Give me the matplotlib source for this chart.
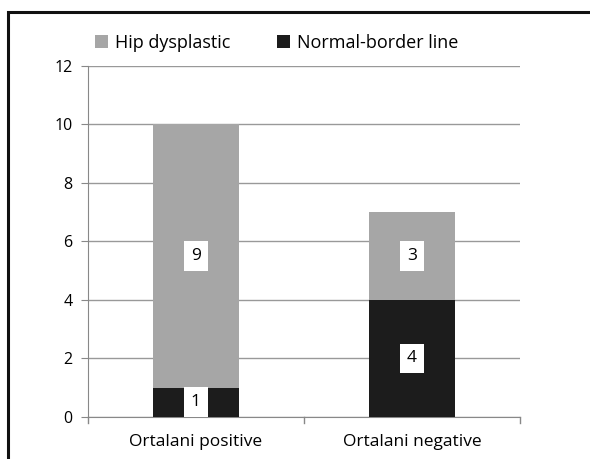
import matplotlib
matplotlib.use("Agg")
import matplotlib.pyplot as plt
from matplotlib.patches import Rectangle

categories = ["Ortalani positive", "Ortalani negative"]
normal_border = [1, 4]
hip_dysplastic = [9, 3]
series_names = ["Hip dysplastic", "Normal-border line"]
yticks = [0, 2, 4, 6, 8, 10, 12]

GRAY = "#a6a6a6"
BLACK = "#1c1c1c"
plt.rcParams["font.family"] = ["Open Sans", "DejaVu Sans"]

fig = plt.figure(figsize=(5.9, 4.59), dpi=100)
ax = fig.add_axes([0.149, 0.0915, 0.732, 0.765])

x = list(range(len(categories)))
ax.bar(x, normal_border, width=0.4, color=BLACK, label=series_names[1], zorder=3)
ax.bar(x, hip_dysplastic, width=0.4, bottom=normal_border, color=GRAY,
       label=series_names[0], zorder=3)

# value labels in white boxes
box = dict(facecolor="white", edgecolor="none", boxstyle="square,pad=0.4")
for i in x:
    ax.text(i, normal_border[i] / 2, str(normal_border[i]), ha="center", va="center",
            fontsize=12.5, zorder=4, bbox=box)
    ax.text(i, normal_border[i] + hip_dysplastic[i] / 2, str(hip_dysplastic[i]),
            ha="center", va="center", fontsize=12.5, zorder=4, bbox=box)

ax.set_xlim(-0.5, 1.5)
ax.set_ylim(0, 12)
ax.set_yticks(yticks)
ax.set_xticks(x)
ax.set_xticklabels(categories, fontsize=12.5)
ax.tick_params(axis="y", labelsize=11.5, length=5, color="#888888", pad=6)
ax.tick_params(axis="x", length=0, pad=12)
for t in [-0.5, 0.5, 1.5]:
    ax.plot([t, t], [0, -0.22], color="#888888", lw=1, clip_on=False, zorder=3)

ax.grid(axis="y", color="#999999", lw=1, zorder=0)
for side in ["top", "right"]:
    ax.spines[side].set_visible(False)
ax.spines["left"].set_color("#888888")
ax.spines["bottom"].set_color("#888888")

handles, labels = ax.get_legend_handles_labels()
ax.legend(handles[::-1], labels[::-1], loc="lower left", bbox_to_anchor=(0.0, 1.02),
          ncol=2, frameon=False, fontsize=13, handlelength=0.7, handleheight=0.7,
          handletextpad=0.4, columnspacing=2.6, borderaxespad=0)

# outer frame (right and bottom edges cropped in the original)
fig.patches.append(Rectangle((8 / 590, -0.1), 1.2, (459 - 12) / 459 + 0.1,
                             transform=fig.transFigure, fill=False,
                             edgecolor="#111111", lw=2.2))

fig.savefig("out.png", dpi=100)
